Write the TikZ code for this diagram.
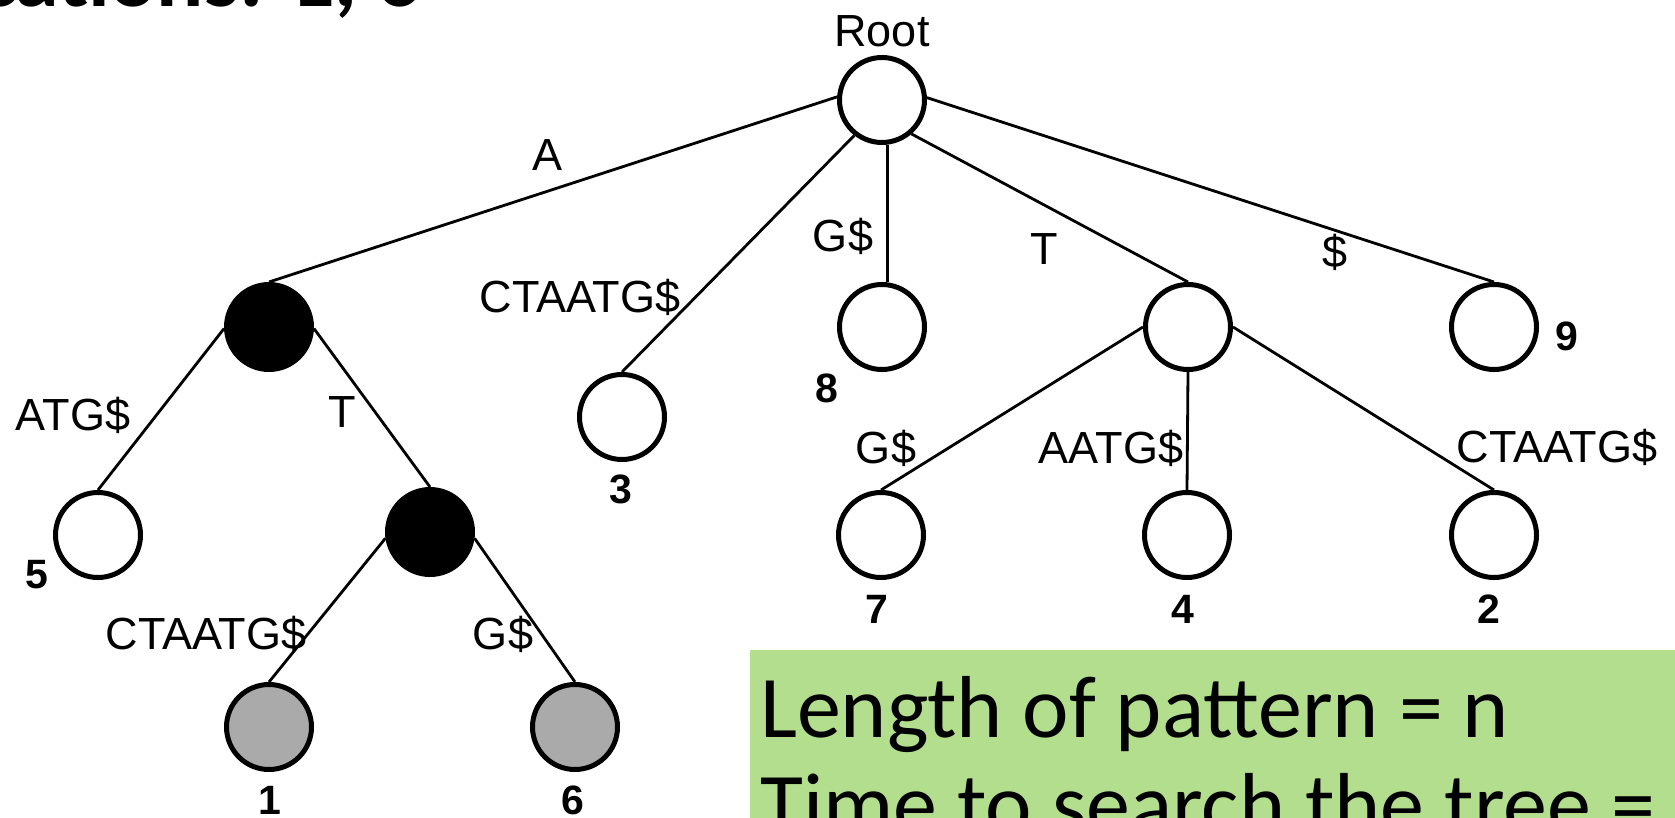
\documentclass[tikz,border=0pt]{standalone}
\usepackage{fontspec}
\setmainfont{Liberation Sans}
\newfontfamily\slidefont{Carlito}
\definecolor{boxgreen}{RGB}{179,222,141}
\definecolor{leafgray}{RGB}{170,170,170}

\begin{document}
\begin{tikzpicture}[x=1pt,y=-1pt,
  tnode/.style={circle, draw=black, line width=5pt, minimum size=85pt, inner sep=0pt, fill=white},
  blacknode/.style={tnode, fill=black},
  graynode/.style={tnode, fill=leafgray},
  link/.style={line width=2.8pt},
  lab/.style={anchor=base, inner sep=0pt, font=\fontsize{45}{54}\selectfont},
  num/.style={anchor=base, inner sep=0pt, font=\fontsize{41}{48}\selectfont\bfseries},
  slidetext/.style={anchor=base west, inner sep=0pt, font=\slidefont\fontsize{88}{100}\selectfont}]

\useasboundingbox (0,0) rectangle (1675,818);
\clip (0,0) rectangle (1675,818);

% heading line running off the top edge
\node[slidetext, anchor=base east, font=\slidefont\fontsize{88}{100}\selectfont\bfseries] (heading) at (422,7) {Locations: 1, 6};

% suffix tree nodes
\node[tnode]      (root) at (882,100) {};
\node[blacknode]  (A)    at (269,327) {};
\node[tnode]      (n5)   at (98,535)  {};
\node[blacknode]  (AT)   at (430,532) {};
\node[graynode]   (n1)   at (269,727) {};
\node[graynode]   (n6)   at (575,727) {};
\node[tnode]      (n3)   at (622,417) {};
\node[tnode]      (n8)   at (882,327) {};
\node[tnode]      (T)    at (1188,327) {};
\node[tnode]      (n9)   at (1494,327) {};
\node[tnode]      (n7)   at (881,535) {};
\node[tnode]      (n4)   at (1187,535) {};
\node[tnode]      (n2)   at (1494,535) {};

% edges
\draw[link] (root.176) -- (A.north);
\draw[link] (root.232) -- (n3.north);
\draw[link] (root.277) -- (n8.83);
\draw[link] (root.311) -- (T.north);
\draw[link] (root.3)   -- (n9.north);
\draw[link] (A.182)    -- (n5.north);
\draw[link] (A.358)    -- (AT.north);
\draw[link] (AT.188)   -- (n1.north);
\draw[link] (AT.352)   -- (n6.north);
\draw[link] (T.west)   -- (n7.north);
\draw[link] (T.south)  -- (n4.north);
\draw[link] (T.east)   -- (n2.north);

% edge labels
\node[lab] (lroot) at (882,47)  {Root};
\node[lab] (lA)    at (547,171) {A};
\node[lab] (l3)    at (580,312) {CTAATG\$};
\node[lab] (l8)    at (843,252) {G\$};
\node[lab] (lT)    at (1044,265) {T};
\node[lab] (l9)    at (1335,268) {\$};
\node[lab] (l5)    at (73,430)  {ATG\$};
\node[lab] (lAT)   at (342,427) {T};
\node[lab] (l1)    at (206,649) {CTAATG\$};
\node[lab] (l6)    at (503,649) {G\$};
\node[lab] (l7)    at (886,463) {G\$};
\node[lab] (l4)    at (1111,463) {AATG\$};
\node[lab] (l2)    at (1557,462) {CTAATG\$};

% leaf numbers
\node[num] (k5) at (37,588)  {5};
\node[num] (k3) at (621,503) {3};
\node[num] (k8) at (827,402) {8};
\node[num] (k9) at (1567,350) {9};
\node[num] (k7) at (877,623) {7};
\node[num] (k4) at (1183,623) {4};
\node[num] (k2) at (1489,623) {2};
\node[num] (k1) at (270,814) {1};
\node[num] (k6) at (573,814) {6};

% note box
\node[fill=boxgreen, draw=none, minimum width=925pt, minimum height=200pt, anchor=north west, inner sep=0pt] (box) at (750,650) {};
\node[slidetext] (line1) at (760,737) {Length of pattern = n};
\node[slidetext] (line2) at (760,834) {Time to search the tree =};
\end{tikzpicture}
\end{document}
